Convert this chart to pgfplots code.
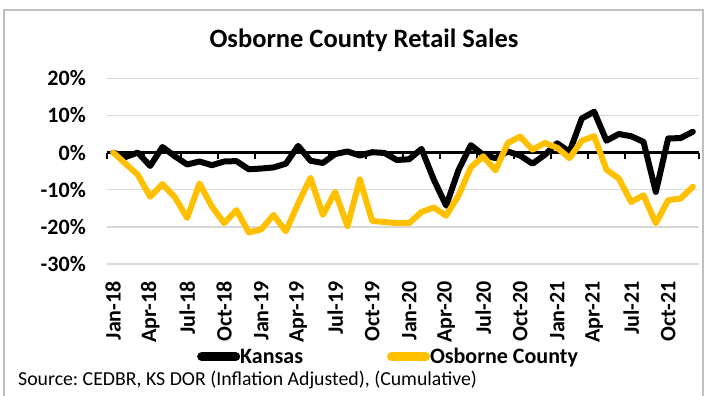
\documentclass[border=0pt]{standalone}
\usepackage{pgfplots}
\usepackage{pgfplotstable}
\pgfplotsset{compat=1.18}
\usepackage{fontspec}
\setmainfont{Carlito}
\frenchspacing
\definecolor{gold}{HTML}{FFC000}
\definecolor{gridgray}{HTML}{D9D9D9}
\definecolor{framegray}{HTML}{BFBFBF}

\pgfplotstableread{
i kansas osborne
0 0 0
1 -1.2 -3
2 0 -6
3 -3.6 -11.9
4 1.5 -8.5
5 -1 -12
6 -3.2 -17.6
7 -2.4 -8.3
8 -3.4 -14.5
9 -2.4 -19
10 -2.3 -15.5
11 -4.5 -21.5
12 -4.3 -20.7
13 -4 -16.8
14 -3 -21.2
15 1.8 -13.7
16 -2.2 -6.8
17 -2.8 -16.8
18 -0.4 -10.6
19 0.3 -19.8
20 -0.8 -7.2
21 0.1 -18.4
22 -0.1 -18.7
23 -2 -19
24 -1.8 -19
25 1 -16
26 -7.3 -14.8
27 -14.3 -17
28 -4.7 -11.6
29 2 -4
30 -0.6 -1
31 -1.5 -4.8
32 0.3 2.6
33 -0.8 4.3
34 -3 0.8
35 -0.6 2.6
36 2.5 1.3
37 0.2 -1.5
38 9.2 3.2
39 11 4.4
40 3.2 -4.6
41 5 -7
42 4.4 -13.3
43 2.9 -11.5
44 -10.6 -19
45 3.8 -12.8
46 3.9 -12.4
47 5.6 -9.2
}\datatable

\begin{document}
\begin{tikzpicture}[x=1pt,y=1pt]
\useasboundingbox (0,0) rectangle (721,396);
\draw[framegray, line width=1.2pt] (4,-2) -- (4,386) -- (703,386) -- (703,-2);
\node[font=\fontsize{26.5}{30}\selectfont\bfseries] at (364,356) {Osborne County Retail Sales};
\node[anchor=west, inner sep=0pt, font=\fontsize{19.8}{23}\selectfont] at (18,16) {Source: CEDBR, KS DOR (Inflation Adjusted), (Cumulative)};
\begin{axis}[
  at={(107pt,132pt)}, anchor=south west, scale only axis,
  width=592pt, height=185.7pt,
  xmin=-0.5, xmax=47.5, ymin=-30, ymax=20,
  axis line style={draw=none},
  ytick={-30,-20,-10,0,10,20},
  yticklabels={-30\%,-20\%,-10\%,0\%,10\%,20\%},
  ymajorgrids, grid style={gridgray, line width=1.3pt},
  xtick={0,3,6,9,12,15,18,21,24,27,30,33,36,39,42,45},
  xticklabels={Jan-18,Apr-18,Jul-18,Oct-18,Jan-19,Apr-19,Jul-19,Oct-19,Jan-20,Apr-20,Jul-20,Oct-20,Jan-21,Apr-21,Jul-21,Oct-21},
  major tick length=0pt,
  tick label style={font=\fontsize{22}{22}\selectfont\bfseries, inner sep=0pt, text=black},
  xticklabel style={rotate=90, anchor=east},
  xticklabel shift=17pt,
  yticklabel style={anchor=east},
  yticklabel shift=21pt,
  clip=false,
  legend columns=2,
  legend style={at={(axis description cs:0.152,-0.499)}, anchor=west, draw=none, fill=none,
    font=\fontsize{22}{22}\selectfont\bfseries, inner sep=0pt,
    nodes={inner sep=0pt},
    /tikz/every even column/.append style={column sep=84pt}},
  legend image code/.code={\draw[#1, line width=9pt, line cap=round] (4.5pt,0pt) -- (38.5pt,0pt);},
]
\draw[black, line width=2.5pt] (axis cs:-0.5,0) -- (axis cs:47.5,0);
\pgfplotsinvokeforeach{-0.5,2.5,5.5,8.5,11.5,14.5,17.5,20.5,23.5,26.5,29.5,32.5,35.5,38.5,41.5,44.5,47.5}{
  \draw[black, line width=1.8pt] (axis cs:#1,0) -- ++(0pt,-6pt);
}
\addplot[black, line width=6pt, line join=round, line cap=round] table[x=i, y=kansas] {\datatable};
\addlegendentry{Kansas}
\addplot[gold, line width=6pt, line join=round, line cap=round] table[x=i, y=osborne] {\datatable};
\addlegendentry{Osborne County}
\end{axis}
\end{tikzpicture}
\end{document}
